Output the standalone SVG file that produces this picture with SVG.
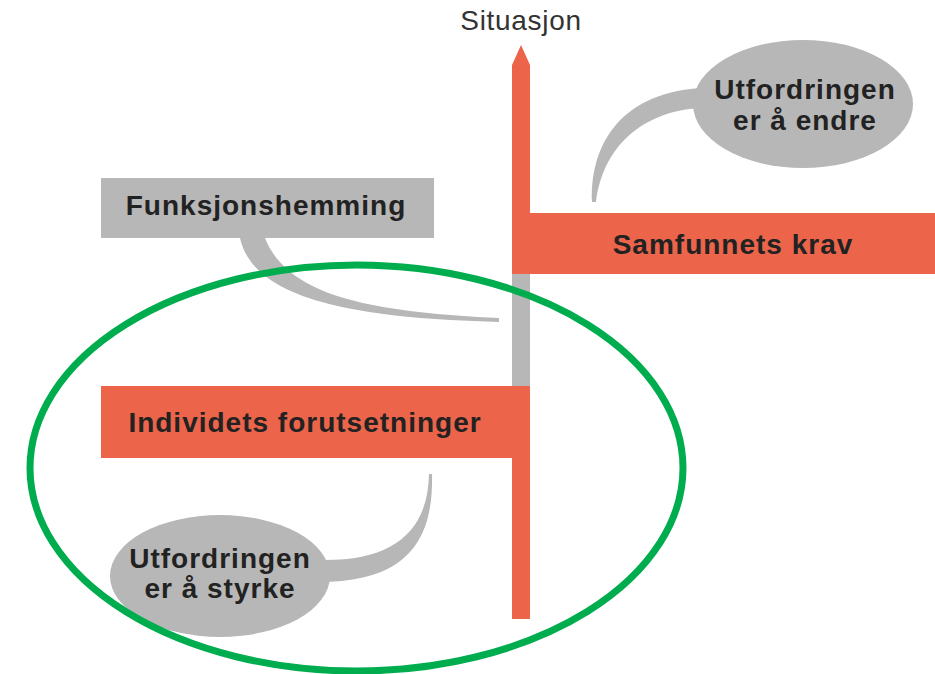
<svg xmlns="http://www.w3.org/2000/svg" width="935" height="674" viewBox="0 0 935 674">
<style>
.or{fill:#EC644A}
.gr{fill:#B7B7B7}
.lbl{font-family:"Liberation Sans",Arial,sans-serif;font-weight:bold;font-size:28px;letter-spacing:1px;fill:#222;text-anchor:middle}
.top{font-family:"Liberation Sans",Arial,sans-serif;font-size:28px;letter-spacing:0.7px;fill:#333;text-anchor:middle}
</style>
<rect width="935" height="674" fill="#fff"/>
<g id="connectors">
  <path class="gr" d="M240,238 C252,292 330,318 499,322 L499,318 C370,312 288,296 265,238 Z"/>
  <path class="gr" d="M592,202 C590,140 625,92 702,88 L702,108 C650,110 604,140 596,202 Z"/>
  <path class="gr" d="M318,560 C395,562 428,530 429,474 L432,474 C434,548 400,582 318,582 Z"/>
</g>
<g id="axis">
  <rect class="gr" x="512" y="270" width="18" height="120"/>
  <path class="or" d="M512,65 L521,45 L530,65 L530,213 L935,213 L935,274 L512,274 Z"/>
  <path class="or" d="M101,386 L530,386 L530,619 L512,619 L512,458 L101,458 Z"/>
  <text class="top" x="521" y="30">Situasjon</text>
</g>
<g id="samfunnets-krav">
  <text class="lbl" x="733" y="254">Samfunnets krav</text>
</g>
<g id="individets-forutsetninger">
  <text class="lbl" x="305" y="432">Individets forutsetninger</text>
</g>
<g id="funksjonshemming">
  <rect class="gr" x="101" y="178" width="333" height="60"/>
  <text class="lbl" x="266" y="215">Funksjonshemming</text>
</g>
<g id="utfordringen-endre">
  <ellipse class="gr" cx="803" cy="104" rx="110" ry="64"/>
  <text class="lbl" x="805" y="99">Utfordringen</text>
  <text class="lbl" x="805" y="130">er å endre</text>
</g>
<g id="utfordringen-styrke">
  <ellipse class="gr" cx="220" cy="576" rx="110" ry="61"/>
  <text class="lbl" x="220" y="568">Utfordringen</text>
  <text class="lbl" x="220" y="598">er å styrke</text>
</g>
<g id="focus-ellipse">
  <ellipse cx="356.5" cy="468" rx="326.5" ry="203" fill="none" stroke="#00AD4E" stroke-width="7"/>
</g>
</svg>
